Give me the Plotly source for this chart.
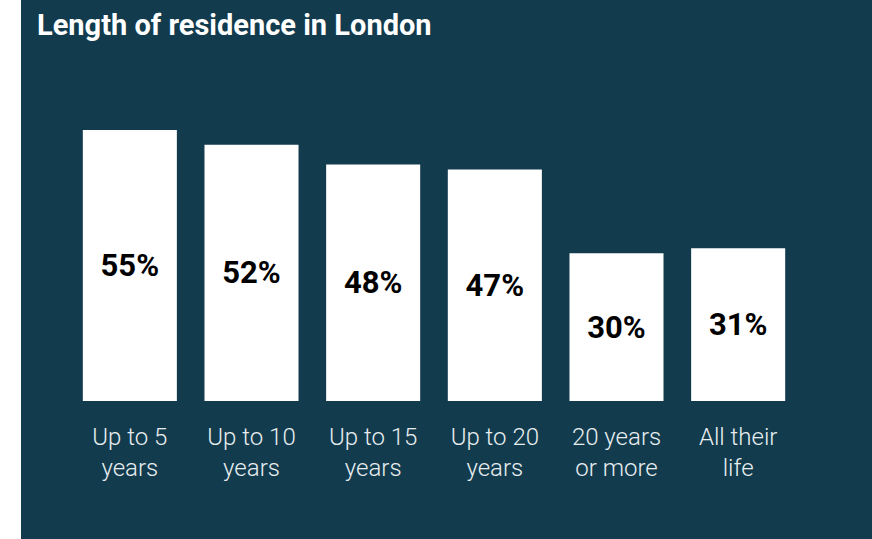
import plotly.graph_objects as go

categories = ["Up to 5<br>years", "Up to 10<br>years", "Up to 15<br>years",
              "Up to 20<br>years", "20 years<br>or more", "All their<br>life"]
values = [55, 52, 48, 47, 30, 31]
labels = [f"{v}%" for v in values]

BG = "#123b4e"
W, H = 872, 539
L, R, T, B = 69, 73, 130, 138

fig = go.Figure(go.Bar(
    x=categories, y=values, text=labels,
    textposition="inside", insidetextanchor="middle",
    textfont=dict(family="Roboto", size=31, color="#000000", weight="bold"),
    marker=dict(color="#ffffff", line=dict(width=0)),
    textangle=0, cliponaxis=False, hoverinfo="skip",
))

plot_w = W - L - R
fig.add_shape(type="rect", xref="paper", yref="paper",
              x0=(0 - L) / plot_w, x1=(21 - L) / plot_w,
              y0=-2, y1=3, fillcolor="#ffffff", line=dict(width=0), layer="below")

fig.update_layout(
    width=W, height=H,
    margin=dict(l=L, r=R, t=T, b=B),
    paper_bgcolor=BG, plot_bgcolor=BG,
    bargap=0.227,
    showlegend=False,
    title=dict(text="<b>Length of residence in London</b>", x=37 / W, xanchor="left",
               y=1 - 25 / H, yanchor="middle",
               font=dict(family="Roboto", size=29, color="#ffffff")),
    xaxis=dict(showgrid=False, zeroline=False, showline=False, ticks="",
               tickfont=dict(family="Roboto", size=24, color="#e8eef0", weight=300),
               ticklabelstandoff=19),
    yaxis=dict(range=[0, 55], visible=False, showgrid=False, zeroline=False),
    uniformtext=dict(minsize=10, mode="show"),
)

fig.write_html("out.html", config={"displayModeBar": False, "staticPlot": True},
               post_script="document.body.style.margin='0';document.body.style.overflow='hidden';")
